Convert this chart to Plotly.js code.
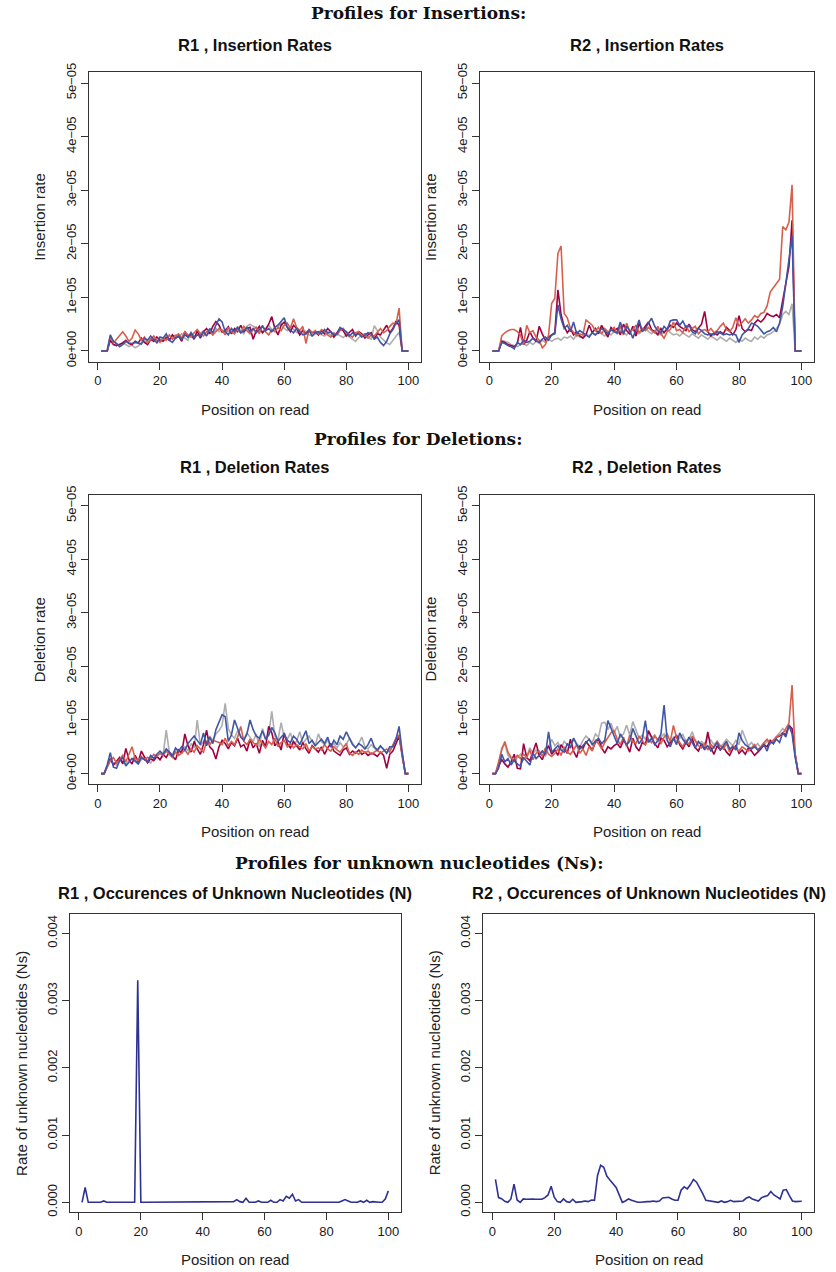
<!DOCTYPE html>
<html>
<head>
<meta charset="utf-8">
<script src="https://cdn.plot.ly/plotly-3.0.1.min.js"></script>
<style>html,body{margin:0;padding:0;background:#fff;}#chart{width:836px;height:1272px;}</style>
</head>
<body>
<div id="chart"></div>
<script>
// ---------------- DATA ----------------
// Read positions 1..100
const positions = Array.from({length: 100}, (_, i) => i + 1);

const xTicks = [0, 20, 40, 60, 80, 100];
// Insertion / deletion rates are given in units of 1e-6
const rateTickVals = [0, 10, 20, 30, 40, 50];
const rateTickText = ["0e+00", "1e\u221205", "2e\u221205", "3e\u221205", "4e\u221205", "5e\u221205"];
const nTickVals = [0, 0.001, 0.002, 0.003, 0.004];
const nTickText = ["0.000", "0.001", "0.002", "0.003", "0.004"];

const seriesNames = ["A", "C", "G", "T"];

// R1 insertion rates (x1e-6)
const r1InsGray = [
 0,0,0,2.4,1.8,1.3,1.1,1.6,1.2,0.8,
 1.1,0.6,0.9,1.5,1.8,1.3,2.0,2.4,1.7,2.2,
 2.0,2.8,2.2,2.5,3.0,2.6,3.2,2.4,2.0,3.5,
 2.8,3.0,3.3,3.8,2.9,3.5,3.0,4.2,3.6,4.0,
 3.2,3.8,3.5,4.0,4.5,3.8,3.2,4.6,5.0,4.6,
 4.4,3.8,3.5,4.2,4.8,4.0,3.6,4.5,5.2,4.2,
 3.8,4.6,4.0,3.5,3.2,4.0,3.6,3.0,2.8,3.2,
 3.5,3.0,2.8,3.4,3.0,2.6,3.2,2.8,2.5,3.0,
 2.6,2.2,1.8,2.5,2.8,3.2,2.6,2.2,4.7,3.8,
 2.6,2.0,1.5,1.2,2.0,2.8,3.5,0,0,0];
const r1InsDark = [
 0,0,0,2.0,1.2,1.0,1.3,1.5,2.0,1.4,
 1.2,1.8,1.5,2.4,1.6,1.2,2.2,1.8,2.6,2.0,
 1.8,2.5,2.0,3.0,2.4,2.8,1.8,3.6,2.6,3.0,
 2.2,3.8,2.4,3.6,4.2,3.2,4.6,5.5,4.8,3.5,
 3.8,4.5,3.2,4.2,3.6,4.8,3.6,4.2,4.4,2.2,
 3.8,4.6,3.4,4.0,5.0,6.4,4.2,3.0,4.8,5.4,
 4.4,3.6,4.8,4.2,3.0,3.8,3.2,4.0,3.4,3.6,
 3.0,3.8,3.2,4.2,3.6,2.6,3.4,4.2,3.8,2.8,
 3.5,4.0,2.8,3.6,3.2,2.4,3.0,3.4,2.2,3.2,
 3.0,3.8,4.8,3.4,4.2,5.6,4.8,0,0,0];
const r1InsOrange = [
 0,0,0,2.8,1.5,2.2,3.0,3.6,2.8,1.8,
 2.4,3.9,3.2,2.0,2.6,1.5,2.2,2.8,2.0,1.6,
 2.4,2.0,3.0,2.2,2.8,3.2,2.4,3.6,3.0,2.6,
 3.4,4.0,3.2,2.8,3.6,4.0,3.0,3.6,4.2,3.8,
 3.0,4.4,3.6,3.2,4.0,3.4,4.6,3.8,3.2,4.0,
 4.4,3.2,4.8,3.6,3.0,4.0,3.6,4.4,3.8,4.8,
 5.2,4.2,6.0,4.4,3.8,4.6,1.4,4.0,3.4,3.8,
 3.2,4.0,3.6,3.0,2.6,3.4,3.0,3.8,4.2,3.4,
 3.0,2.6,3.4,3.6,2.8,3.2,2.4,3.0,2.8,3.6,
 4.2,3.4,3.8,4.6,5.2,5.0,8.0,0,0,0];
const r1InsBlue = [
 0,0,0,3.0,1.8,1.4,0.8,1.2,1.8,1.5,
 1.4,1.6,1.5,1.3,2.4,2.0,2.8,2.2,1.5,2.6,
 2.4,3.2,2.0,1.6,2.4,2.8,2.2,3.0,2.6,3.4,
 2.4,3.0,2.8,3.6,2.8,4.2,3.4,4.8,6.0,5.4,
 3.6,3.0,4.2,3.6,4.4,3.4,3.8,4.4,3.6,4.2,
 3.4,4.0,4.6,3.8,4.2,3.6,4.4,4.8,5.4,6.2,
 4.4,3.8,3.4,4.2,3.6,3.0,3.2,3.8,2.8,3.4,
 3.6,3.2,4.0,3.4,3.6,3.0,3.2,4.4,4.0,3.6,
 2.8,3.4,3.0,3.2,2.6,3.0,3.4,3.2,2.2,2.6,
 1.6,1.0,1.8,3.2,4.0,5.2,5.8,0,0,0];

// R2 insertion rates (x1e-6)
const r2InsGray = [
 0,0,0,2.0,1.8,1.6,1.2,1.0,0.8,1.2,
 1.4,1.0,1.6,1.2,1.8,1.4,2.0,1.6,2.2,1.8,
 2.2,2.4,2.0,2.6,2.4,2.8,2.2,3.0,2.6,2.8,
 3.2,2.8,3.4,3.0,3.6,3.2,2.8,3.4,3.0,3.6,
 3.2,3.8,3.4,3.0,3.6,4.0,3.4,3.2,3.8,4.6,
 3.6,3.2,3.8,3.4,3.0,3.6,4.2,3.4,3.0,3.2,
 2.8,3.4,3.0,2.6,3.2,2.8,2.4,3.0,2.6,2.2,
 2.8,2.4,2.0,2.6,2.2,1.8,2.4,2.0,1.6,2.2,
 1.8,2.4,2.0,1.8,2.6,2.2,2.8,2.4,3.0,3.2,
 3.6,4.2,5.0,6.8,7.4,6.8,8.8,0,0,0];
const r2InsDark = [
 0,0,0,1.8,1.6,1.2,1.0,0.8,1.4,4.4,
 1.2,2.0,3.6,2.4,1.8,4.6,3.2,2.0,2.6,3.0,
 3.4,11.4,6.8,4.6,3.4,4.2,3.0,3.6,2.8,2.4,
 3.0,4.8,3.4,4.2,3.2,4.8,3.6,2.6,4.4,3.8,
 4.2,3.0,5.0,3.8,3.2,4.6,2.8,5.2,3.8,4.6,
 5.4,4.0,3.6,3.0,4.2,3.4,4.0,4.8,4.4,5.2,
 4.6,4.2,3.8,5.0,4.0,3.6,4.4,5.0,7.4,3.6,
 2.8,3.4,3.0,3.6,3.2,4.4,3.8,3.0,4.0,6.6,
 4.2,3.6,4.0,3.8,5.2,5.8,5.4,6.0,7.0,6.6,
 6.4,6.8,6.2,9.4,12.6,15.8,24.4,0,0,0];
const r2InsOrange = [
 0,0,0,2.8,3.4,3.8,4.0,4.0,3.6,3.0,
 1.2,4.8,3.4,3.8,2.6,2.0,0.6,1.2,3.0,8.9,
 9.8,18.2,19.6,7.0,6.2,4.2,3.6,2.8,3.2,3.0,
 5.8,5.2,4.8,3.8,4.4,3.2,4.2,3.6,3.8,4.4,
 3.2,4.6,3.0,5.2,3.6,4.0,4.8,3.4,4.2,3.8,
 4.4,3.8,3.4,4.6,3.2,2.4,3.6,4.0,5.4,3.8,
 4.0,3.4,4.8,3.6,4.2,4.6,3.2,3.8,4.0,3.6,
 4.2,3.4,3.8,4.6,5.2,4.0,3.6,4.4,6.2,4.6,
 5.4,6.0,5.2,5.8,6.6,6.2,7.0,7.2,8.4,11.0,
 11.8,12.6,13.4,23.2,22.6,24.0,31.0,0,0,0];
const r2InsBlue = [
 0,0,0,1.6,1.4,1.0,0.8,0.4,1.6,1.2,
 2.0,1.6,1.8,2.4,2.0,1.6,2.2,2.6,2.0,3.0,
 3.2,8.6,6.0,4.2,4.8,3.6,5.4,3.2,3.8,3.4,
 3.0,2.6,3.4,3.0,3.6,4.2,3.8,3.2,4.0,3.6,
 3.4,5.4,3.2,4.6,3.8,2.4,4.0,5.8,3.6,4.2,
 5.2,6.1,4.6,3.8,3.4,4.6,4.0,5.6,5.8,5.8,
 4.8,5.6,4.4,4.8,3.6,3.2,4.2,3.8,3.2,3.0,
 3.2,3.0,3.6,3.4,3.0,3.2,3.0,3.2,3.0,1.6,
 3.0,3.6,4.2,5.2,5.0,4.6,3.8,3.2,3.6,3.8,
 4.4,3.6,5.2,8.3,12.6,17.0,21.5,0,0,0];

// R1 deletion rates (x1e-6)
const r1DelGray = [
 0,0,1.2,2.4,2.0,1.6,2.6,2.0,1.8,2.4,
 2.8,2.2,1.8,2.6,3.0,2.4,2.0,2.8,3.2,2.6,
 3.4,8.1,4.0,3.6,4.6,3.8,4.4,5.0,4.2,5.6,
 4.8,10.0,5.2,6.0,5.4,7.0,6.2,7.4,8.0,9.0,
 13.1,8.4,7.2,6.6,8.0,7.0,6.4,7.6,6.8,6.0,
 7.4,5.0,8.4,6.6,7.2,11.6,7.0,6.2,9.5,6.8,
 6.4,7.6,5.4,6.0,7.8,5.6,6.4,7.0,6.0,5.2,
 7.4,6.0,5.4,6.2,5.0,5.6,4.8,5.8,5.0,5.4,
 6.6,5.8,4.8,5.6,6.8,5.0,4.6,5.4,4.8,4.2,
 5.0,4.6,3.8,4.4,5.2,6.4,7.2,3.0,0,0];
const r1DelDark = [
 0,0,1.4,2.8,1.6,2.2,3.0,1.8,4.7,2.6,
 1.8,3.4,2.2,4.2,3.0,2.0,2.8,2.4,3.2,2.6,
 3.6,3.0,4.0,3.2,2.6,4.4,3.8,7.4,5.2,4.0,
 6.0,4.6,3.6,5.4,8.1,5.0,4.4,2.7,5.0,6.2,
 5.6,4.6,5.8,5.2,6.6,5.0,5.4,4.2,6.4,4.8,
 5.6,3.8,6.2,5.0,8.8,7.6,5.2,6.0,4.4,7.6,
 5.6,4.8,6.0,5.2,4.4,5.8,4.6,3.8,5.2,4.6,
 4.0,5.0,3.6,4.8,5.6,4.2,3.8,3.4,4.4,4.8,
 3.6,4.2,3.8,4.4,3.6,4.0,3.4,3.8,3.6,3.2,
 4.0,3.4,1.0,3.6,4.2,5.6,7.0,3.5,0,0];
const r1DelOrange = [
 0,0,1.2,2.4,3.0,2.0,2.6,3.4,2.2,3.6,
 5.0,2.8,2.4,3.2,2.6,3.0,2.8,3.6,3.2,3.8,
 3.4,4.2,3.6,3.0,4.0,3.4,3.8,4.4,3.6,4.6,
 4.0,5.2,4.6,4.0,6.0,5.4,6.2,6.0,5.8,5.4,
 6.6,5.2,6.0,5.4,6.8,8.8,6.0,5.4,6.4,5.8,
 5.2,6.4,5.6,4.8,6.0,5.4,6.6,5.0,5.8,6.2,
 5.0,5.6,4.8,5.4,5.0,4.6,5.6,4.2,5.0,4.6,
 4.8,4.4,5.4,4.6,4.2,5.0,4.4,4.0,4.8,5.6,
 3.8,3.4,4.0,3.6,4.4,3.8,4.2,3.6,4.0,4.4,
 3.8,4.2,4.6,4.0,5.4,6.6,7.2,3.6,0,0];
const r1DelBlue = [
 0,0,1.6,3.9,1.2,1.0,2.4,3.0,1.4,2.2,
 2.8,2.4,1.8,3.0,2.6,2.2,3.4,2.8,3.6,4.2,
 3.6,4.6,4.0,3.2,4.8,4.2,5.0,4.4,5.6,6.2,
 7.0,6.2,5.4,7.6,5.2,6.8,5.6,8.2,9.6,11.0,
 10.6,6.0,7.2,10.0,8.4,6.8,6.2,7.4,10.0,8.2,
 7.0,6.6,8.0,6.4,7.2,8.6,7.6,6.0,6.8,7.4,
 6.2,5.8,7.0,6.4,5.4,6.8,8.0,5.6,6.2,5.2,
 5.8,6.4,5.6,6.8,5.0,6.2,5.4,7.0,6.4,7.8,
 6.6,5.4,4.8,5.6,5.2,4.6,5.4,6.6,5.0,4.4,
 5.2,4.6,3.8,5.0,5.0,6.4,8.8,4.0,0,0];

// R2 deletion rates (x1e-6)
const r2DelGray = [
 0,0,1.6,4.8,5.6,3.4,2.8,2.2,3.0,3.6,
 2.6,3.2,4.8,3.8,4.4,3.6,4.2,3.2,5.0,6.4,
 5.2,5.8,4.6,6.0,5.4,4.8,6.6,5.6,5.0,6.2,
 7.0,6.4,5.8,7.4,6.8,9.4,9.6,8.2,9.4,7.6,
 8.8,6.8,7.4,9.0,7.2,9.7,8.0,6.6,7.2,6.4,
 7.8,6.6,7.2,6.0,6.8,7.4,6.2,5.6,6.8,6.0,
 6.6,7.4,5.8,6.4,7.8,6.2,5.6,6.0,5.4,6.8,
 6.2,5.4,6.0,5.0,5.6,6.4,5.8,5.2,6.2,5.4,
 8.1,6.6,5.2,5.8,5.0,5.6,4.8,5.4,6.0,5.6,
 6.2,6.8,7.6,8.4,7.8,8.6,8.2,3.6,0,0];
const r2DelDark = [
 0,0,1.4,2.6,1.8,1.2,2.2,3.6,1.0,0.9,
 5.6,3.0,2.4,4.0,5.7,3.4,2.6,4.2,5.2,3.6,
 4.4,3.4,5.4,4.6,3.8,6.4,4.2,3.0,5.2,4.6,
 6.0,5.2,4.4,5.8,6.4,4.8,3.8,5.0,4.6,5.2,
 5.6,4.8,6.2,5.4,4.0,6.6,5.0,4.2,5.8,5.4,
 8.0,6.8,5.6,4.8,6.6,6.2,5.0,5.8,6.4,7.2,
 5.4,4.6,5.8,5.0,6.6,4.8,4.2,5.6,4.4,7.8,
 4.8,3.6,5.2,4.4,5.0,4.0,3.4,4.6,5.2,3.8,
 4.4,3.6,4.8,4.2,3.4,4.0,4.6,5.4,5.0,6.2,
 5.6,6.8,7.0,7.6,7.2,9.0,8.4,3.5,0,0];
const r2DelOrange = [
 0,0,2.2,4.4,6.0,4.0,3.0,2.4,3.4,2.8,
 3.6,3.0,4.4,2.6,3.8,4.2,3.2,4.8,3.6,3.2,
 3.8,4.6,3.4,5.0,4.0,3.6,4.4,5.4,3.8,4.6,
 3.4,5.0,4.2,6.2,5.6,4.6,5.8,6.8,7.6,8.0,
 6.4,5.4,6.8,5.0,7.2,6.0,5.6,7.0,6.2,5.4,
 6.4,5.8,7.0,6.2,5.6,6.8,7.4,6.0,9.0,6.6,
 5.8,5.0,6.2,5.4,7.0,6.0,5.2,4.8,5.6,4.4,
 5.4,4.8,6.0,5.2,4.6,5.6,4.0,5.2,4.6,4.2,
 5.0,4.6,4.2,4.8,5.4,4.4,5.0,5.8,6.4,5.6,
 6.2,6.8,7.2,7.4,8.4,9.4,16.5,3.6,0,0];
const r2DelBlue = [
 0,0,1.0,3.6,2.2,2.8,1.6,2.6,1.8,1.4,
 3.0,2.4,1.6,3.8,2.8,3.4,4.2,3.6,7.8,4.0,
 4.6,5.2,4.4,4.0,5.6,4.8,6.6,5.4,4.6,5.2,
 5.8,6.4,5.4,6.0,6.6,5.6,6.2,9.9,8.6,7.0,
 5.6,7.4,6.4,5.4,6.0,8.4,7.0,5.6,6.4,9.9,
 5.8,6.6,5.4,6.2,7.4,12.8,6.2,5.0,6.6,5.4,
 7.6,6.4,5.6,6.8,5.8,4.8,6.0,5.4,4.6,5.2,
 4.2,5.0,5.8,4.4,5.2,6.0,4.6,5.0,4.4,7.6,
 6.2,5.4,5.0,4.6,5.0,4.4,4.8,5.4,4.2,6.0,
 5.6,6.4,5.8,7.6,6.8,9.0,7.4,3.0,0,0];

// Rate of unknown nucleotides (N)
const r1N = [
 0,0.00022,0,0,0,0,0,0.00002,0,0,
 0,0,0,0,0,0,0,0,0.0033,0,
 0,0,0,0.00001,0.00001,0,0,0,0,0,
 0,0,0,0,0,0,0,0,0,0,
 0,0,0,0,0,0,0,0,0,0.00001,
 0.00004,0.00001,0,0.00006,0,0,0,0.00002,0,0,
 0,0.00003,0,0,0.00004,0.00002,0.00009,0.00006,0.00012,0.00002,
 0.00004,0,0,0,0,0,0,0,0,0,
 0,0,0.00001,0,0.00002,0.00004,0.00002,0,0,0,
 0.00002,0,0.00003,0,0.00001,0,0,0,0.00005,0.00017];
const r2N = [
 0.00034,0.00007,0.000055,0.000015,0,0.00005,0.00027,0.000035,0,0.00005,
 0.000045,0.00005,0.00005,0.000045,0.00004,0.000045,0.00007,0.00011,0.00024,0.000075,
 0.00001,0,0.00005,0.00001,0,0.000045,0,0,0.00001,0.00002,
 0.00001,0.000035,0.00003,0.0004,0.00055,0.00052,0.00039,0.00033,0.00027,0.00022,
 0.00011,0,0.00002,0.00005,0.00003,0.00001,0,0,0.00001,0.00001,
 0.00001,0.00002,0.00001,0.00002,0.000065,0.00007,0.000075,0.00005,0.00003,0.00003,
 0.00018,0.00023,0.0002,0.00026,0.00034,0.0003,0.00022,0.00013,0.00003,0.00002,
 0.00001,0,0,0.00002,0,0.00001,0.00003,0.00001,0.00001,0.00001,
 0.00002,0.00006,0.00008,0.00005,0.00003,0.00002,0.00007,0.00008,0.0001,0.00016,
 0.00011,0.00008,0.00005,0.00018,0.00019,0.0001,0.00002,0.00001,0.00001,0.000015];

// ---------------- STYLE ----------------
const W = 836, H = 1272;
const colGray = "#ADADAD", colDark = "#9E0142", colOrange = "#D6604D", colBlue = "#3F55A6", colN = "#2E3192";
const sans = "'Liberation Sans', Arial, Helvetica, sans-serif";
const serif = "'DejaVu Serif', 'Liberation Serif', serif";
const fx = v => v / W;
const fy = v => 1 - v / H;

const panels = [
  {ax: "", left: 88.7, right: 420.7, top: 72.3, bottom: 361.7,
   series: [r1InsGray, r1InsDark, r1InsOrange, r1InsBlue], kind: "rate",
   title: "R1 , Insertion Rates", ytitle: "Insertion rate"},
  {ax: "2", left: 480, right: 813.8, top: 72.3, bottom: 361.7,
   series: [r2InsGray, r2InsDark, r2InsOrange, r2InsBlue], kind: "rate",
   title: "R2 , Insertion Rates", ytitle: "Insertion rate"},
  {ax: "3", left: 88.7, right: 420.7, top: 494.9, bottom: 784.3,
   series: [r1DelGray, r1DelDark, r1DelOrange, r1DelBlue], kind: "rate",
   title: "R1 , Deletion Rates", ytitle: "Deletion rate"},
  {ax: "4", left: 480, right: 813.8, top: 494.9, bottom: 784.3,
   series: [r2DelGray, r2DelDark, r2DelOrange, r2DelBlue], kind: "rate",
   title: "R2 , Deletion Rates", ytitle: "Deletion rate"},
  {ax: "5", left: 69.8, right: 400.6, top: 914.3, bottom: 1212,
   series: [r1N], kind: "n",
   title: "R1 , Occurences of Unknown Nucleotides (N)", ytitle: "Rate of unknown nucleotides (Ns)"},
  {ax: "6", left: 483.2, right: 814, top: 914.3, bottom: 1212,
   series: [r2N], kind: "n",
   title: "R2 , Occurences of Unknown Nucleotides (N)", ytitle: "Rate of unknown nucleotides (Ns)"}
];

const traces = [];
const layout = {
  width: W, height: H,
  margin: {l: 0, r: 0, t: 0, b: 0},
  paper_bgcolor: "#fff", plot_bgcolor: "#fff",
  showlegend: false, hovermode: false,
  font: {family: sans, color: "#222", size: 13},
  annotations: []
};

const headers = [
  {text: "Profiles for Insertions:", x: 418, y: 13},
  {text: "Profiles for Deletions:", x: 418, y: 439},
  {text: "Profiles for unknown nucleotides (Ns):", x: 420, y: 863}
];
headers.forEach(h => layout.annotations.push({
  text: h.text, xref: "paper", yref: "paper", x: fx(h.x), y: fy(h.y),
  xanchor: "center", yanchor: "middle", showarrow: false,
  font: {family: serif, size: 17, color: "#111", weight: "bold"}
}));

const titleY = [45, 45, 467, 467, 893, 893];
const xlabY = [409, 409, 831, 831, 1259, 1259];

panels.forEach((p, k) => {
  const xa = "x" + p.ax, ya = "y" + p.ax;
  const cols = p.kind === "rate" ? [colGray, colDark, colOrange, colBlue] : [colN];
  p.series.forEach((s, j) => {
    traces.push({
      type: "scatter", mode: "lines", x: positions, y: s,
      xaxis: xa, yaxis: ya,
      name: p.kind === "rate" ? seriesNames[j] : "N",
      line: {color: cols[j], width: 1.6}
    });
  });
  const common = {
    showgrid: false, zeroline: false, showline: true, mirror: true,
    linecolor: "#333", linewidth: 1, ticks: "outside", ticklen: 7,
    tickwidth: 1, tickcolor: "#333",
    tickfont: {family: sans, size: 13, color: "#1a1a1a"}
  };
  layout["xaxis" + p.ax] = Object.assign({}, common, {
    domain: [fx(p.left), fx(p.right)], anchor: ya,
    range: [-2.96, 103.96], tickvals: xTicks, ticktext: xTicks.map(String)
  });
  layout["yaxis" + p.ax] = Object.assign({}, common, {
    domain: [fy(p.bottom), fy(p.top)], anchor: xa,
    range: p.kind === "rate" ? [-2, 52] : [-0.000144, 0.0042825],
    tickvals: p.kind === "rate" ? rateTickVals : nTickVals,
    ticktext: p.kind === "rate" ? rateTickText : nTickText,
    tickangle: -90
  });
  const cx = (p.left + p.right) / 2;
  layout.annotations.push({
    text: p.title, xref: "paper", yref: "paper", x: fx(cx), y: fy(titleY[k]),
    xanchor: "center", yanchor: "middle", showarrow: false,
    font: {family: sans, size: 16.5, color: "#111", weight: "bold"}
  });
  layout.annotations.push({
    text: "Position on read", xref: "paper", yref: "paper", x: fx(cx), y: fy(xlabY[k]),
    xanchor: "center", yanchor: "middle", showarrow: false,
    font: {family: sans, size: 15, color: "#222"}
  });
  layout.annotations.push({
    text: p.ytitle, xref: "paper", yref: "paper", x: fx(p.left - 49), y: fy((p.top + p.bottom) / 2),
    xanchor: "center", yanchor: "middle", showarrow: false, textangle: -90,
    font: {family: sans, size: 15, color: "#222"}
  });
});

Plotly.newPlot("chart", traces, layout, {staticPlot: true, displayModeBar: false});
</script>
</body>
</html>
